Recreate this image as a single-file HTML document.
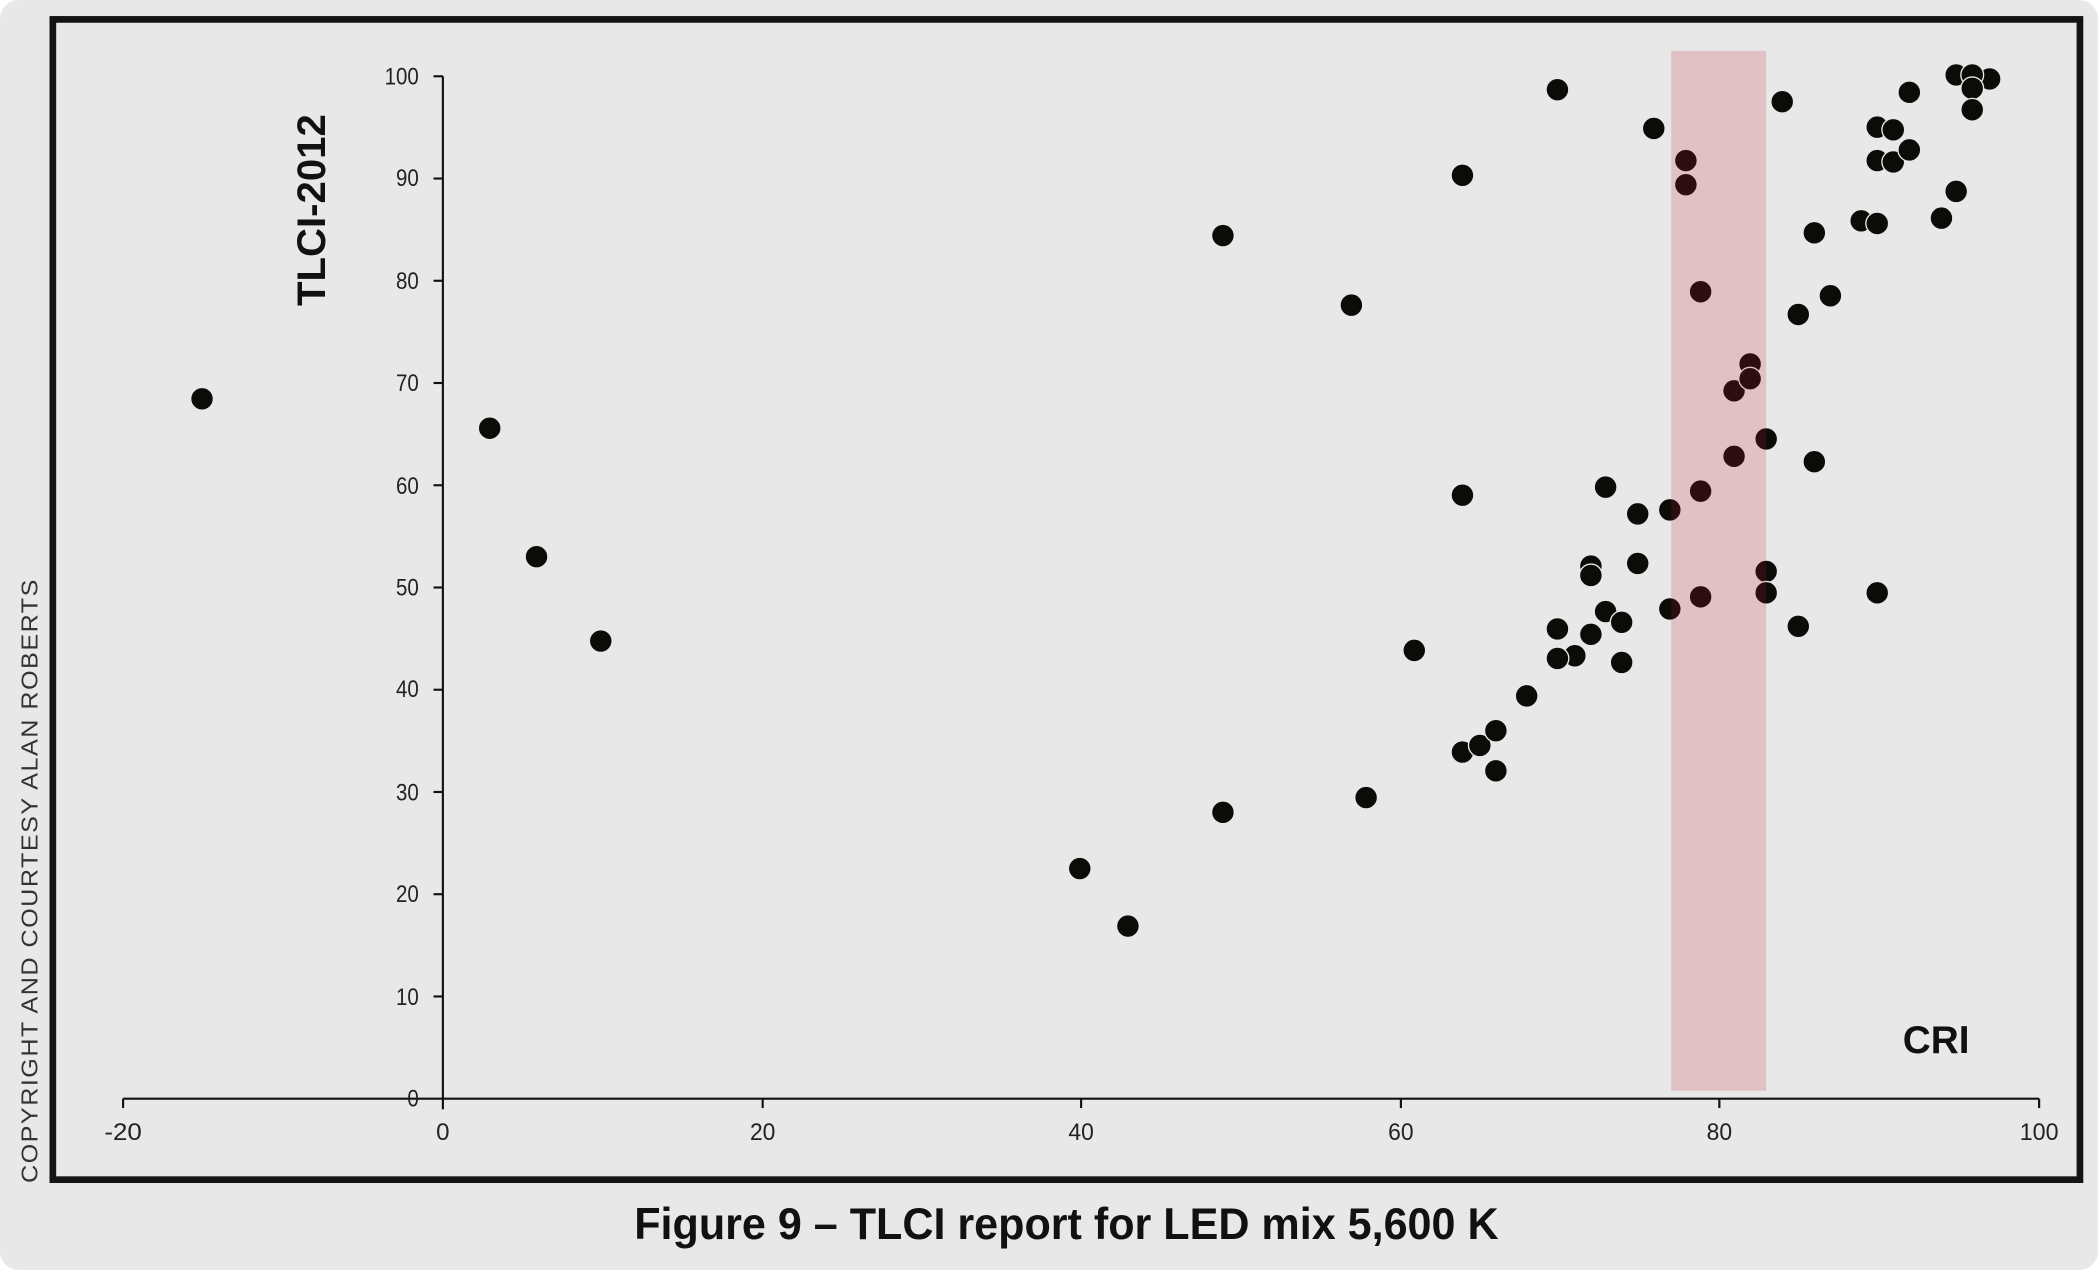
<!DOCTYPE html>
<html><head><meta charset="utf-8"><style>
html,body{margin:0;padding:0;background:#fff;}
svg{display:block;}
</style></head><body>
<svg width="2098" height="1270" viewBox="0 0 1568 949" preserveAspectRatio="none" xmlns="http://www.w3.org/2000/svg">
<rect x="0" y="0" width="1568" height="949" rx="14" fill="#e8e8e8"/>
<rect x="39.5" y="14.5" width="1515" height="867" fill="none" stroke="#141512" stroke-width="5"/>
<g stroke="#111" stroke-width="1.6" fill="none">
<line x1="92" y1="821" x2="1524" y2="821"/>
<line x1="331" y1="57" x2="331" y2="829"/>
<line x1="92" y1="821" x2="92" y2="828"/>
<line x1="570" y1="821" x2="570" y2="828"/>
<line x1="808" y1="821" x2="808" y2="828"/>
<line x1="1047" y1="821" x2="1047" y2="828"/>
<line x1="1285" y1="821" x2="1285" y2="828"/>
<line x1="1524" y1="821" x2="1524" y2="828"/>
<line x1="324" y1="57" x2="331" y2="57"/>
<line x1="324" y1="133.4" x2="331" y2="133.4"/>
<line x1="324" y1="209.8" x2="331" y2="209.8"/>
<line x1="324" y1="286.2" x2="331" y2="286.2"/>
<line x1="324" y1="362.6" x2="331" y2="362.6"/>
<line x1="324" y1="439" x2="331" y2="439"/>
<line x1="324" y1="515.4" x2="331" y2="515.4"/>
<line x1="324" y1="591.8" x2="331" y2="591.8"/>
<line x1="324" y1="668.2" x2="331" y2="668.2"/>
<line x1="324" y1="744.6" x2="331" y2="744.6"/>
</g>
<g font-family="Liberation Sans, sans-serif" font-size="18" fill="#222" text-anchor="end">
<g transform="translate(313,0) scale(0.85,1)">
<text x="0" y="63">100</text><text x="0" y="139">90</text><text x="0" y="216">80</text>
<text x="0" y="292">70</text><text x="0" y="369">60</text><text x="0" y="445">50</text>
<text x="0" y="521">40</text><text x="0" y="598">30</text><text x="0" y="674">20</text>
<text x="0" y="751">10</text><text x="0" y="827">0</text>
</g></g>
<g font-family="Liberation Sans, sans-serif" font-size="18" fill="#222" text-anchor="middle">
<text x="92" y="852" textLength="28" lengthAdjust="spacingAndGlyphs">-20</text>
<text x="331" y="852">0</text>
<text x="570" y="852" textLength="19" lengthAdjust="spacingAndGlyphs">20</text>
<text x="808" y="852" textLength="19" lengthAdjust="spacingAndGlyphs">40</text>
<text x="1047" y="852" textLength="19" lengthAdjust="spacingAndGlyphs">60</text>
<text x="1285" y="852" textLength="19" lengthAdjust="spacingAndGlyphs">80</text>
<text x="1524" y="852" textLength="29" lengthAdjust="spacingAndGlyphs">100</text>
</g>
<text transform="translate(243,157) rotate(-90)" font-family="Liberation Sans, sans-serif" font-weight="bold" font-size="30" fill="#111" text-anchor="middle">TLCI-2012</text>
<text x="1447" y="787" font-family="Liberation Sans, sans-serif" font-weight="bold" font-size="29" fill="#111" text-anchor="middle">CRI</text>
<text transform="translate(28,884) rotate(-90)" font-family="Liberation Sans, sans-serif" font-size="17" fill="#333" textLength="452" lengthAdjust="spacingAndGlyphs" letter-spacing="1">COPYRIGHT AND COURTESY ALAN ROBERTS</text>
<text x="797" y="926" font-family="Liberation Sans, sans-serif" font-weight="bold" font-size="33" fill="#111" text-anchor="middle" textLength="646" lengthAdjust="spacingAndGlyphs">Figure 9 – TLCI report for LED mix 5,600 K</text>
<g fill="#0b0b08" stroke="#e8e8e8" stroke-width="1">
<circle cx="151" cy="298" r="8.5"/><circle cx="366" cy="320" r="8.5"/><circle cx="401" cy="416" r="8.5"/><circle cx="449" cy="479" r="8.5"/>
<circle cx="807" cy="649" r="8.5"/><circle cx="843" cy="692" r="8.5"/><circle cx="914" cy="607" r="8.5"/><circle cx="914" cy="176" r="8.5"/>
<circle cx="1010" cy="228" r="8.5"/><circle cx="1021" cy="596" r="8.5"/><circle cx="1057" cy="486" r="8.5"/><circle cx="1093" cy="131" r="8.5"/>
<circle cx="1093" cy="370" r="8.5"/><circle cx="1093" cy="562" r="8.5"/><circle cx="1106" cy="557" r="8.5"/><circle cx="1118" cy="546" r="8.5"/>
<circle cx="1118" cy="576" r="8.5"/><circle cx="1141" cy="520" r="8.5"/><circle cx="1164" cy="67" r="8.5"/><circle cx="1164" cy="470" r="8.5"/>
<circle cx="1177" cy="490" r="8.5"/><circle cx="1164" cy="492" r="8.5"/><circle cx="1189" cy="423" r="8.5"/><circle cx="1189" cy="430" r="8.5"/>
<circle cx="1189" cy="474" r="8.5"/><circle cx="1200" cy="364" r="8.5"/><circle cx="1200" cy="457" r="8.5"/><circle cx="1212" cy="465" r="8.5"/>
<circle cx="1212" cy="495" r="8.5"/><circle cx="1224" cy="384" r="8.5"/><circle cx="1224" cy="421" r="8.5"/><circle cx="1236" cy="96" r="8.5"/>
<circle cx="1248" cy="381" r="8.5"/><circle cx="1248" cy="455" r="8.5"/><circle cx="1260" cy="120" r="8.5"/><circle cx="1260" cy="138" r="8.5"/>
<circle cx="1271" cy="218" r="8.5"/><circle cx="1271" cy="367" r="8.5"/><circle cx="1271" cy="446" r="8.5"/><circle cx="1296" cy="292" r="8.5"/>
<circle cx="1296" cy="341" r="8.5"/><circle cx="1308" cy="272" r="8.5"/><circle cx="1308" cy="283" r="8.5"/><circle cx="1320" cy="328" r="8.5"/>
<circle cx="1320" cy="427" r="8.5"/><circle cx="1320" cy="443" r="8.5"/><circle cx="1332" cy="76" r="8.5"/><circle cx="1344" cy="235" r="8.5"/>
<circle cx="1344" cy="468" r="8.5"/><circle cx="1356" cy="174" r="8.5"/><circle cx="1356" cy="345" r="8.5"/><circle cx="1368" cy="221" r="8.5"/>
<circle cx="1391" cy="165" r="8.5"/><circle cx="1403" cy="95" r="8.5"/><circle cx="1415" cy="97" r="8.5"/><circle cx="1403" cy="120" r="8.5"/>
<circle cx="1415" cy="121" r="8.5"/><circle cx="1403" cy="167" r="8.5"/><circle cx="1403" cy="443" r="8.5"/><circle cx="1427" cy="69" r="8.5"/>
<circle cx="1427" cy="112" r="8.5"/><circle cx="1451" cy="163" r="8.5"/><circle cx="1462" cy="56" r="8.5"/><circle cx="1462" cy="143" r="8.5"/>
<circle cx="1487" cy="59" r="8.5"/><circle cx="1474" cy="56" r="8.5"/><circle cx="1474" cy="66" r="8.5"/><circle cx="1474" cy="82" r="8.5"/>
</g>
<rect x="1249" y="38" width="71" height="777" fill="rgb(190,32,53)" fill-opacity="0.19"/>
</svg>
</body></html>
